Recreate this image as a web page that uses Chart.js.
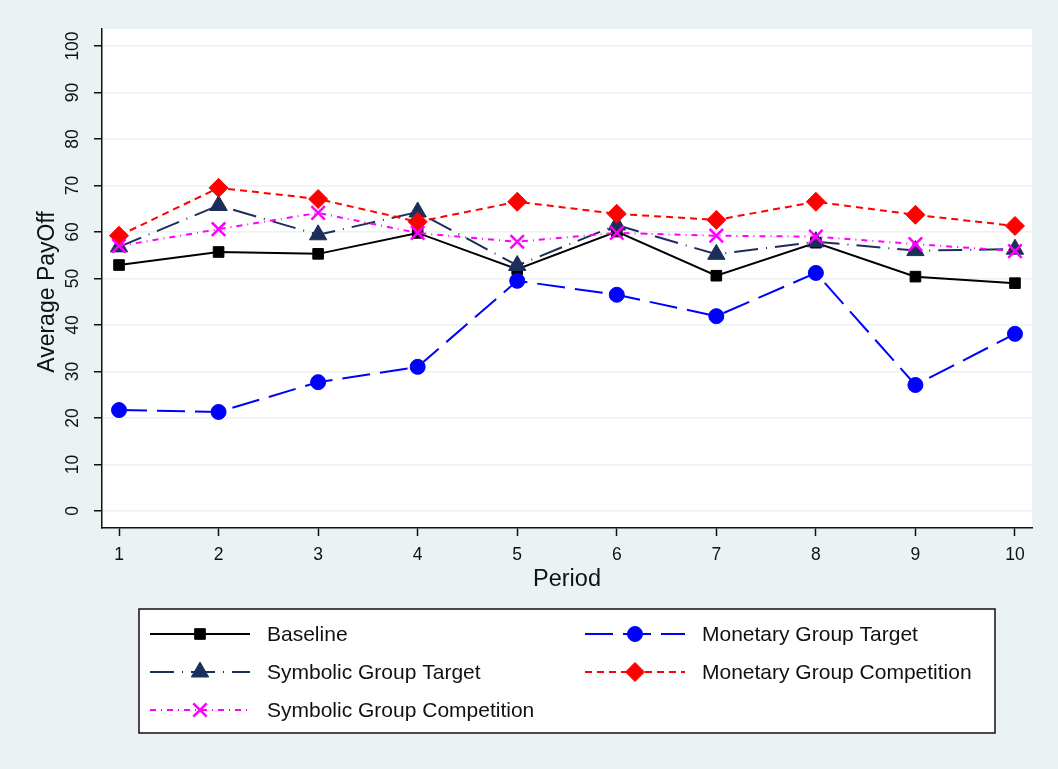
<!DOCTYPE html>
<html>
<head>
<meta charset="utf-8">
<script src="https://cdn.jsdelivr.net/npm/chart.js@4"></script>
<style>
  html, body { margin: 0; padding: 0; background: #eaf2f3; }
</style>
</head>
<body>
<canvas id="payoffChart" width="1058" height="769"></canvas>
<script>
const periods = [1, 2, 3, 4, 5, 6, 7, 8, 9, 10];
const yTicks = [0, 10, 20, 30, 40, 50, 60, 70, 80, 90, 100];

const baseline = [52.9, 55.7, 55.3, 59.8, 52.0, 60.1, 50.6, 57.7, 50.4, 49.0];
const monetaryTarget = [21.7, 21.3, 27.7, 31.0, 49.5, 46.5, 41.9, 51.2, 27.1, 38.1];
const symbolicTarget = [56.8, 65.7, 59.4, 64.3, 52.8, 61.5, 55.2, 57.9, 56.0, 56.3];
const monetaryCompetition = [59.2, 69.5, 67.1, 62.2, 66.5, 63.9, 62.6, 66.5, 63.7, 61.3];
const symbolicCompetition = [57.0, 60.6, 64.1, 59.8, 57.9, 59.8, 59.2, 59.0, 57.4, 55.9];

const seriesNames = [
  "Baseline",
  "Monetary Group Target",
  "Symbolic Group Target",
  "Monetary Group Competition",
  "Symbolic Group Competition"
];

const FONT = "'Liberation Sans', Arial, sans-serif";

function series(i, values, color, dash, style, radius, width) {
  return {
    label: seriesNames[i],
    data: values.map((v, k) => ({ x: periods[k], y: v })),
    borderColor: color,
    borderWidth: 2,
    borderDash: dash,
    pointStyle: style,
    pointRadius: radius,
    pointBackgroundColor: color,
    pointBorderColor: color,
    pointBorderWidth: width,
    fill: false,
    tension: 0,
    order: 5 - i
  };
}

// background + white plot region
const plotBackground = {
  id: "plotBackground",
  beforeDraw(chart) {
    const { ctx, chartArea } = chart;
    ctx.save();
    ctx.fillStyle = "#eaf2f3";
    ctx.fillRect(0, 0, chart.width, chart.height);
    ctx.fillStyle = "#ffffff";
    ctx.fillRect(chartArea.left, chartArea.top,
      chartArea.right - chartArea.left, chartArea.bottom - chartArea.top);
    ctx.restore();
  }
};

// y axis title sits a little below the plot centre in the original
const yTitle = {
  id: "yTitle",
  afterDraw(chart) {
    const ctx = chart.ctx;
    ctx.save();
    ctx.translate(48, 292);
    ctx.rotate(-Math.PI / 2);
    ctx.fillStyle = "#111";
    ctx.font = "23px " + FONT;
    ctx.textAlign = "center";
    ctx.textBaseline = "middle";
    ctx.fillText("Average PayOff", 0, 0);
    ctx.restore();
  }
};

// Stata-style boxed legend, two columns
const boxLegend = {
  id: "boxLegend",
  afterDraw(chart) {
    const ctx = chart.ctx;
    ctx.save();
    ctx.fillStyle = "#ffffff";
    ctx.fillRect(139, 609, 856, 124);
    ctx.strokeStyle = "#111";
    ctx.lineWidth = 1.5;
    ctx.strokeRect(139, 609, 856, 124);

    chart.data.datasets.forEach((ds, i) => {
      const col = i % 2;
      const row = Math.floor(i / 2);
      const x0 = col === 0 ? 150 : 585;
      const y = 634 + row * 38;

      ctx.strokeStyle = ds.borderColor;
      ctx.lineWidth = ds.borderWidth;
      ctx.setLineDash(ds.borderDash);
      ctx.beginPath();
      ctx.moveTo(x0, y);
      ctx.lineTo(x0 + 100, y);
      ctx.stroke();
      ctx.setLineDash([]);

      ctx.fillStyle = ds.pointBackgroundColor;
      ctx.strokeStyle = ds.pointBorderColor;
      ctx.lineWidth = ds.pointBorderWidth;
      Chart.helpers.drawPoint(ctx, {
        pointStyle: ds.pointStyle,
        radius: ds.pointRadius,
        rotation: 0,
        borderWidth: ds.pointBorderWidth
      }, x0 + 50, y);

      ctx.fillStyle = "#111";
      ctx.font = "21px " + FONT;
      ctx.textBaseline = "middle";
      ctx.textAlign = "left";
      ctx.fillText(ds.label, x0 + 117, y + 1);
    });
    ctx.restore();
  }
};

new Chart(document.getElementById("payoffChart"), {
  type: "line",
  data: {
    datasets: [
      series(0, baseline, "#000000", [], "rect", 7.5, 1),
      series(1, monetaryTarget, "#0000ff", [28, 10], "circle", 7.5, 1),
      series(2, symbolicTarget, "#1c2e5a", [24, 8, 1, 8], "triangle", 10, 1),
      series(3, monetaryCompetition, "#ff0000", [7, 5], "rectRot", 9.5, 1),
      series(4, symbolicCompetition, "#ff00ff", [6, 5, 1, 5], "crossRot", 9.5, 2.5)
    ]
  },
  options: {
    responsive: false,
    animation: false,
    devicePixelRatio: 1,
    layout: {
      padding: { left: 0, top: 29, right: 26, bottom: 175 }
    },
    plugins: {
      legend: { display: false },
      tooltip: { enabled: false }
    },
    scales: {
      x: {
        type: "linear",
        min: 0.829,
        max: 10.171,
        afterBuildTicks: (scale) => {
          scale.ticks = periods.map(v => ({ value: v }));
        },
        afterFit: (scale) => { scale.height = 66; },
        border: { color: "#111", width: 1.5 },
        grid: {
          drawOnChartArea: false,
          tickColor: "#111",
          tickWidth: 1.5,
          tickLength: 8
        },
        ticks: {
          color: "#111",
          font: { family: FONT, size: 17.5 },
          padding: 9,
          maxRotation: 0,
          autoSkip: false
        },
        title: {
          display: true,
          text: "Period",
          color: "#111",
          font: { family: FONT, size: 23.5 },
          padding: { top: 0, bottom: 0 }
        }
      },
      y: {
        min: -3.66,
        max: 103.66,
        afterBuildTicks: (scale) => {
          scale.ticks = yTicks.map(v => ({ value: v }));
        },
        afterFit: (scale) => { scale.width = 102; },
        border: { color: "#111", width: 1.5 },
        grid: {
          color: "#eaf2f3",
          lineWidth: 1.5,
          tickColor: "#111",
          tickWidth: 1.5,
          tickLength: 8
        },
        ticks: {
          color: "#111",
          font: { family: FONT, size: 17.5 },
          padding: 6,
          minRotation: 90,
          maxRotation: 90,
          crossAlign: "center",
          autoSkip: false
        },
        title: { display: false }
      }
    }
  },
  plugins: [plotBackground, yTitle, boxLegend]
});
</script>
</body>
</html>
